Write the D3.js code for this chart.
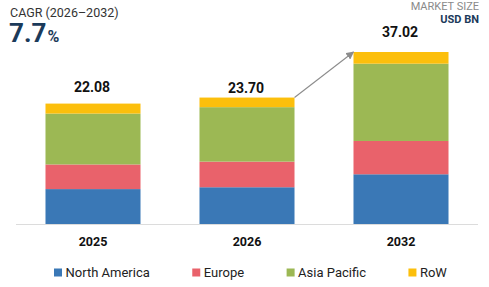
<!DOCTYPE html>
<html>
<head>
<meta charset="utf-8">
<script src="https://cdn.jsdelivr.net/npm/d3@7"></script>
<style>
  html, body { margin: 0; padding: 0; background: #fff; }
  svg { display: block; font-family: Roboto, "Liberation Sans", Arial, sans-serif; }
</style>
</head>
<body>
<svg id="chart" width="489" height="287"></svg>
<script>
// ---- data ----
const years = ["2025", "2026", "2032"];
const series = ["North America", "Europe", "Asia Pacific", "RoW"];
const northAmerica = [6.40, 6.89, 10.70];
const europe       = [4.52, 4.80, 7.17];
const asiaPacific  = [9.33, 10.21, 16.64];
const row          = [1.83, 1.80, 2.51];
const totals       = [22.08, 23.70, 37.02];
const totalLabels  = ["22.08", "23.70", "37.02"];
const cagrLabel = "CAGR (2026\u20132032)";
const cagrValue = "7.7";

// ---- layout / styles ----
const colors = ["#3a78b6", "#e9626b", "#9cb854", "#fcbf0c"];
const baseY = 224, topY = 52;
const labelDy = [12, 5, 15];

const svg = d3.select("#chart");
const seriesValues = [northAmerica, europe, asiaPacific, row];

const x = d3.scaleBand().domain(years).range([16, 478]).paddingInner(0.383).paddingOuter(0.1915);
// bar height scale (non-linear, as in the source graphic)
const yTotal = d3.scalePow().exponent(0.69).domain([0, d3.max(totals)]).range([baseY, topY]);

// baseline
svg.append("line").attr("x1", 16).attr("x2", 478).attr("y1", baseY + 0.5).attr("y2", baseY + 0.5)
  .attr("stroke", "#dcdcdc").attr("stroke-width", 1);

years.forEach((yr, i) => {
  const inner = d3.scaleLinear().domain([0, totals[i]]).range([baseY, yTotal(totals[i])]);
  let cum = 0;
  seriesValues.forEach((vals, s) => {
    const v = vals[i];
    svg.append("rect")
      .attr("x", x(yr)).attr("width", x.bandwidth())
      .attr("y", inner(cum + v)).attr("height", inner(cum) - inner(cum + v))
      .attr("fill", colors[s]);
    cum += v;
  });
  svg.append("text")
    .attr("x", x(yr) + x.bandwidth() / 2 - 1)
    .attr("y", yTotal(totals[i]) - labelDy[i])
    .attr("text-anchor", "middle")
    .attr("font-size", 14).attr("font-weight", "bold").attr("fill", "#111")
    .text(totalLabels[i]);
});

// x axis labels
const xAxis = d3.axisBottom(x).tickSize(0).tickPadding(0);
const gx = svg.append("g").attr("transform", `translate(0,${baseY})`).call(xAxis);
gx.select(".domain").remove();
gx.selectAll("text").attr("dy", null).attr("y", 22)
  .attr("font-size", 12.5).attr("font-weight", "bold").attr("fill", "#111")
  .attr("font-family", "Roboto, 'Liberation Sans', Arial, sans-serif");

// arrow
const defs = svg.append("defs");
defs.append("marker").attr("id", "arr").attr("viewBox", "0 0 10 10")
  .attr("refX", 9).attr("refY", 5).attr("markerWidth", 8).attr("markerHeight", 8)
  .attr("orient", "auto-start-reverse").attr("markerUnits", "userSpaceOnUse")
  .append("path").attr("d", "M0,0 L10,5 L0,10 z").attr("fill", "#8c8c8c");
svg.append("line")
  .attr("x1", x(years[1]) + x.bandwidth()).attr("y1", yTotal(totals[1]))
  .attr("x2", x(years[2])).attr("y2", yTotal(totals[2]))
  .attr("stroke", "#8c8c8c").attr("stroke-width", 1.1).attr("marker-end", "url(#arr)");

// header
svg.append("text").attr("x", 10).attr("y", 17).attr("font-size", 12.5).attr("fill", "#333").text(cagrLabel);
const big = svg.append("text").attr("x", 9).attr("y", 42).attr("font-weight", "bold").attr("fill", "#1b3a5a");
big.append("tspan").attr("font-size", 26).text(cagrValue);
big.append("tspan").attr("font-size", 16).attr("dx", 1).text("%");

svg.append("text").attr("x", 479).attr("y", 10).attr("text-anchor", "end")
  .attr("font-size", 11).attr("fill", "#8a8a8a").text("MARKET SIZE");
svg.append("text").attr("x", 479).attr("y", 22.5).attr("text-anchor", "end")
  .attr("font-size", 11).attr("font-weight", "bold").attr("fill", "#1b3a5a").text("USD BN");

// legend
let lx = 54;
const ly = 277;
series.forEach((name, s) => {
  svg.append("rect").attr("x", lx).attr("y", ly - 8.5).attr("width", 8).attr("height", 8).attr("fill", colors[s]);
  const t = svg.append("text").attr("x", lx + 11.5).attr("y", ly).attr("font-size", 13).attr("fill", "#222").text(name);
  lx += 11.5 + t.node().getComputedTextLength() + 42.5;
});
</script>
</body>
</html>
